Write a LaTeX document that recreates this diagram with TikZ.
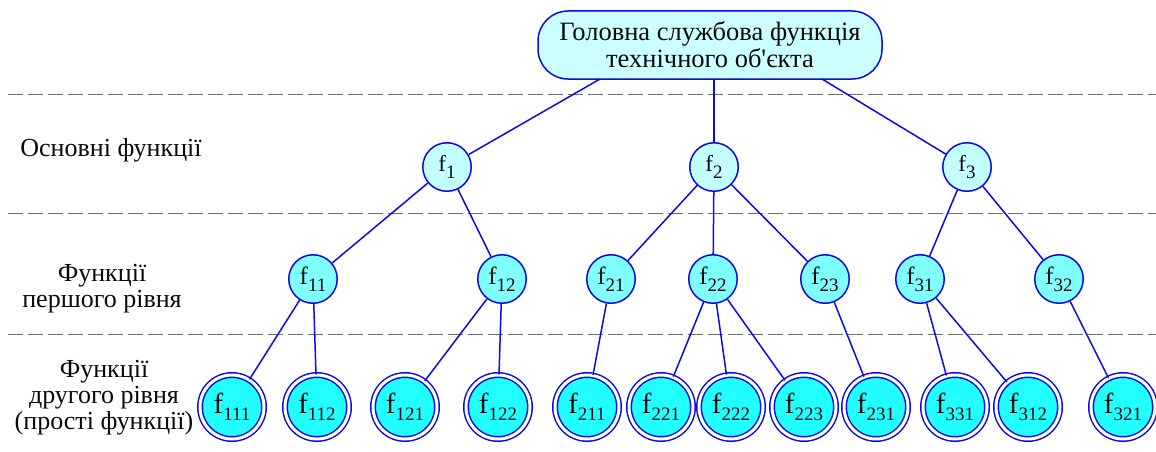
\documentclass[tikz,border=0pt]{standalone}
\usepackage{fontspec}
\setmainfont{Liberation Serif}
\definecolor{lnblue}{RGB}{10,10,235}
\definecolor{topfill}{RGB}{204,255,255}
\definecolor{lvlone}{RGB}{196,255,255}
\definecolor{lvltwo}{RGB}{128,255,255}
\definecolor{leaffill}{RGB}{34,255,255}
\definecolor{dashgray}{RGB}{110,110,110}
\definecolor{txt}{RGB}{10,10,10}
\newcommand{\fsub}[2]{{\fontsize{#1}{#1}\selectfont f}\raisebox{-7pt}{\fontsize{19}{19}\selectfont #2}}
\begin{document}
\begin{tikzpicture}[x=1pt,y=-1pt,
  lineS/.style={draw=lnblue, line width=1.5pt},
  dashline/.style={draw=dashgray, line width=1pt, dash pattern=on 15pt off 5pt},
  topnode/.style={draw=lnblue, line width=1.5pt, fill=topfill, rounded corners=30pt,
     minimum width=344pt, minimum height=68pt, align=center, text=txt,
     font=\fontsize{26.5}{27}\selectfont, inner sep=0pt},
  lone/.style={circle, draw=lnblue, line width=1.5pt, fill=lvlone, minimum size=48.5pt,
     inner sep=0pt, text=txt},
  ltwo/.style={lone, fill=lvltwo},
  leaf/.style={circle, draw=lnblue, line width=1.5pt, double=white, double distance=3pt,
     fill=leaffill, minimum size=64pt, inner sep=0pt, text=txt},
  lbl/.style={align=center, text=txt, font=\fontsize{26}{26}\selectfont, inner sep=0pt}]
\useasboundingbox (0,0) rectangle (1156,452);
% dashed separators
\draw[dashline] (8,94) -- (1156,94);
\draw[dashline] (8,213) -- (1156,213);
\draw[dashline] (8,334) -- (1156,334);
% labels
\node[lbl] (lab1) at (111,150) {Основні функції};
\node[lbl] (lab2) at (102,289) {Функції\\першого рівня};
\node[lbl] (lab3) at (104,398) {Функції\\другого рівня\\(прості функції)};
% top
\node[topnode] (top) at (710,45) {Головна службова функція\\технічного об\textquotesingle єкта};
% level 1
\node[lone] (f1) at (447,167) {\fsub{23}{1}};
\node[lone] (f2) at (714,167) {\fsub{23}{2}};
\node[lone] (f3) at (967,167) {\fsub{23}{3}};
% level 2
\node[ltwo] (f11) at (313,279) {\fsub{25}{11}};
\node[ltwo] (f12) at (502,279) {\fsub{25}{12}};
\node[ltwo] (f21) at (611,279) {\fsub{25}{21}};
\node[ltwo] (f22) at (713,279) {\fsub{25}{22}};
\node[ltwo] (f23) at (825,279) {\fsub{25}{23}};
\node[ltwo] (f31) at (920,279) {\fsub{25}{31}};
\node[ltwo] (f32) at (1059,279) {\fsub{25}{32}};
% leaves
\node[leaf] (f111) at (232,407) {\fsub{29}{111}};
\node[leaf] (f112) at (317,407) {\fsub{29}{112}};
\node[leaf] (f121) at (405,407) {\fsub{29}{121}};
\node[leaf] (f122) at (498,407) {\fsub{29}{122}};
\node[leaf] (f211) at (587,407) {\fsub{29}{211}};
\node[leaf] (f221) at (661,407) {\fsub{29}{221}};
\node[leaf] (f222) at (731,407) {\fsub{29}{222}};
\node[leaf] (f223) at (804,407) {\fsub{29}{223}};
\node[leaf] (f231) at (876,407) {\fsub{29}{231}};
\node[leaf] (f331) at (955,407) {\fsub{29}{331}};
\node[leaf] (f312) at (1028,407) {\fsub{29}{312}};
\node[leaf] (f321) at (1123,407) {\fsub{29}{321}};
% connectors from top
\coordinate (ta) at (600,79);
\coordinate (tc) at (822,79);
\draw[lineS] (ta) -- (f1);
\draw[lineS] (top.south -| f2) -- (f2);
\draw[lineS] (tc) -- (f3);
% level 1 -> level 2
\draw[lineS] (f1) -- (f11);
\draw[lineS] (f1) -- (f12);
\draw[lineS] (f2) -- (f21);
\draw[lineS] (f2) -- (f22);
\draw[lineS] (f2) -- (f23);
\draw[lineS] (f3) -- (f31);
\draw[lineS] (f3) -- (f32);
% level 2 -> leaves
\draw[lineS] (f11) -- (f111);
\draw[lineS] (f11) -- (f112);
\draw[lineS] (f12) -- (f121);
\draw[lineS] (f12) -- (f122);
\draw[lineS] (f21) -- (f211);
\draw[lineS] (f22) -- (f221);
\draw[lineS] (f22) -- (f222);
\draw[lineS] (f22) -- (f223);
\draw[lineS] (f23) -- (f231);
\draw[lineS] (f31) -- (f331);
\draw[lineS] (f31) -- (f312);
\draw[lineS] (f32) -- (f321);
\end{tikzpicture}
\end{document}
